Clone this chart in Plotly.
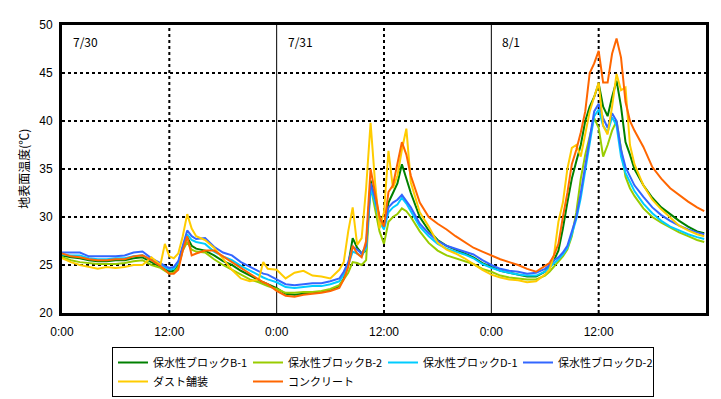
import plotly.graph_objects as go

hours = [0,1,2,3,4,5,6,7,8,9,10,11, 11.5,12,12.5,13,13.5,14,14.5,15, 16,17,18,19,20,21,22, 22.5,23,
         24,25,26,27,28,29,30,31, 31.5,32,32.5,33,33.5,34,34.5,35,35.5,36,36.5,37,37.5,38,38.5,39,
         40,41,42,43,44,45,46,47,48,49,50,51,52,53,54,
         54.5,55,55.5,56,56.5,57,57.5,58,58.5,59,59.5,60,60.5,61,61.5,62,62.5,63,63.5,64,
         65,66,67,68,69,70,71,71.8]

b1 = [26.0,25.8,25.7,25.5,25.4,25.4,25.5,25.5,25.7,25.8,25.3,24.8, 24.5,24.3,24.4,25.0,26.8,27.9,27.0,26.7, 26.5,26.0,25.4,25.0,24.4,23.9,23.4, 23.2,23.0,
      22.6,22.0,21.9,22.0,22.1,22.2,22.4,22.8, 23.6,25.0,27.8,26.8,26.2,26.5,33.8,32.0,30.0,29.0,31.5,32.5,33.5,35.5,34.0,32.5,
      30.0,28.6,27.6,27.0,26.6,26.2,25.8,25.2,24.8,24.4,24.2,24.0,23.8,23.8,24.3,
      24.9,25.5,26.5,28.8,31.5,34.0,35.8,37.5,40.0,41.5,42.5,43.9,41.5,40.5,42.5,44.2,41.5,37.8,36.5,35.0,
      33.3,32.0,31.0,30.3,29.6,29.0,28.5,28.3]

b2 = [25.8,25.5,25.3,25.2,25.1,25.1,25.1,25.2,25.4,25.5,25.0,24.7, 24.4,24.1,24.2,24.8,26.5,27.4,26.6,26.4, 26.3,25.6,25.0,24.5,24.0,23.5,23.2, 23.0,22.8,
      22.5,22.1,22.1,22.2,22.2,22.3,22.5,22.9, 23.5,24.2,25.3,25.2,25.0,25.5,33.2,31.0,28.5,27.2,29.5,30.0,30.3,30.9,30.6,30.0,
      28.5,27.3,26.5,26.0,25.7,25.4,25.1,24.6,24.3,23.9,23.7,23.6,23.5,23.5,23.9,
      24.3,24.8,25.3,25.9,26.6,28.0,30.5,34.0,36.5,38.5,40.3,39.3,36.3,37.5,39.0,40.0,37.0,34.2,33.0,32.2,
      30.9,30.0,29.4,28.9,28.4,28.0,27.6,27.4]

d1 = [26.1,26.0,26.0,25.7,25.6,25.6,25.7,25.7,25.9,26.0,25.5,25.0, 24.7,24.5,24.6,25.3,26.8,28.2,27.6,27.4, 27.2,26.4,25.9,25.5,24.9,24.4,23.9, 23.7,23.5,
      23.2,22.7,22.6,22.7,22.8,22.8,23.0,23.3, 24.0,25.0,26.4,26.2,25.9,26.8,33.0,31.5,29.5,28.7,30.5,31.0,31.3,32.0,31.4,30.6,
      29.0,28.0,27.2,26.7,26.4,26.1,25.7,25.1,24.7,24.4,24.2,24.0,23.9,23.9,24.3,
      24.7,25.2,25.6,26.1,26.8,28.2,29.8,32.0,35.0,38.0,40.5,41.2,39.5,38.8,40.4,39.5,36.3,34.6,33.6,32.7,
      31.4,30.4,29.6,29.0,28.6,28.2,27.9,27.7]

d2 = [26.3,26.3,26.3,25.9,25.9,25.9,25.9,26.0,26.3,26.4,25.7,25.2, 24.9,24.7,24.8,25.4,27.0,28.6,28.0,27.7, 27.8,26.9,26.3,26.0,25.3,24.8,24.3, 24.1,24.0,
      23.5,23.0,22.9,23.0,23.1,23.1,23.3,23.6, 24.3,25.3,26.9,26.6,26.2,27.0,33.5,32.0,29.8,29.0,31.0,31.5,31.8,32.3,31.7,31.0,
      29.3,28.3,27.5,27.0,26.7,26.4,26.1,25.5,25.0,24.6,24.4,24.3,24.1,24.2,24.6,
      25.0,25.5,25.8,26.3,27.0,28.5,30.0,32.5,35.5,38.5,41.0,41.8,40.3,39.3,40.8,40.0,37.0,35.2,34.2,33.3,
      32.1,31.0,30.2,29.6,29.1,28.7,28.4,28.2]

dust = [25.7,25.3,25.0,24.8,24.6,24.8,24.7,24.8,25.0,25.0,25.8,25.0, 27.2,25.9,25.7,26.2,28.0,30.3,28.8,28.0, 27.6,26.8,25.6,24.5,23.6,23.3,23.5, 25.3,24.6,
        24.5,23.6,24.2,24.4,23.9,23.8,23.6,24.5, 25.3,28.5,31.0,27.1,27.8,33.0,39.8,33.6,28.8,30.5,36.9,33.0,34.3,37.0,39.2,33.6,
        30.5,29.0,27.3,26.6,26.2,25.7,25.1,24.5,24.0,23.7,23.5,23.4,23.2,23.3,24.0,
        24.5,26.0,29.5,31.5,35.0,37.2,37.5,36.3,38.6,41.0,42.5,44.0,39.5,38.6,41.5,44.9,43.2,43.5,37.5,35.5,
        33.3,31.8,30.8,29.9,29.1,28.6,28.2,28.0]

concrete = [26.2,25.9,25.8,25.6,25.5,25.5,25.6,25.6,25.9,26.0,25.5,24.9, 24.5,24.1,24.1,24.5,26.5,28.0,26.0,26.2, 26.5,26.5,25.9,25.3,24.7,24.1,23.5, 23.2,23.0,
            22.3,21.8,21.7,21.9,22.0,22.1,22.3,22.6, 23.5,24.8,27.0,26.2,25.8,27.5,35.0,32.5,30.0,29.0,32.6,33.3,35.5,37.8,36.5,34.3,
            31.5,30.0,29.3,28.7,28.0,27.4,26.8,26.4,26.0,25.6,25.3,25.0,24.6,24.3,24.9,
            25.2,26.0,27.2,30.0,32.5,35.5,37.0,38.8,41.0,45.0,46.0,47.3,44.0,44.0,47.0,48.6,46.6,42.0,40.0,39.0,
            37.3,35.2,34.0,33.0,32.3,31.6,31.0,30.6]

series_names = ["保水性ブロックB-1", "保水性ブロックB-2", "保水性ブロックD-1",
                "保水性ブロックD-2", "ダスト舗装", "コンクリート"]
series_values = [b1, b2, d1, d2, dust, concrete]
series_colors = ["#008000", "#99CC00", "#00CCFF", "#3366FF", "#FFCC00", "#FF6600"]

x_tickvals = [0, 12, 24, 36, 48, 60]
x_ticktext = ["0:00", "12:00", "0:00", "12:00", "0:00", "12:00"]
y_tickvals = [20, 25, 30, 35, 40, 45, 50]
day_starts = [0, 24, 48]
day_labels = ["7/30", "7/31", "8/1"]
x_range = [0, 72]
y_range = [20, 50]
y_title = "地表面温度(℃)"

# the page body has an 8px default margin; size the figure so it fits the window
OFF = 8
W, H = 721 - OFF, 399 - OFF

fig = go.Figure()
for name, vals, col in zip(series_names, series_values, series_colors):
    fig.add_trace(go.Scatter(x=hours, y=vals, mode="lines", name=name,
                             line=dict(color=col, width=2)))

shapes = []
for yv in y_tickvals[1:-1]:
    shapes.append(dict(type="line", xref="x", yref="y", x0=x_range[0], x1=x_range[1],
                       y0=yv, y1=yv, layer="below",
                       line=dict(color="black", width=2, dash="3px,3px")))
for xv in x_tickvals[1:]:
    if xv in day_starts:
        shapes.append(dict(type="line", xref="x", yref="y", x0=xv, x1=xv,
                           y0=y_range[0], y1=y_range[1], layer="below",
                           line=dict(color="black", width=1)))
    else:
        shapes.append(dict(type="line", xref="x", yref="y", x0=xv, x1=xv,
                           y0=y_range[0], y1=y_range[1], layer="below",
                           line=dict(color="black", width=2, dash="3px,3px")))

annotations = []
for d, lab in zip(day_starts, day_labels):
    annotations.append(dict(x=d + 1.0, y=y_range[1] - 0.6, xref="x", yref="y",
                            text=lab, showarrow=False, xanchor="left", yanchor="top",
                            font=dict(size=12, color="black")))
annotations.append(dict(x=-0.061, y=0.5, xref="paper", yref="paper", text=y_title,
                        textangle=-90, showarrow=False, xanchor="center", yanchor="middle",
                        font=dict(size=12, color="black")))

fig.update_layout(
    width=W, height=H,
    margin=dict(l=62 - OFF, r=15, t=25 - OFF, b=86),
    paper_bgcolor="white", plot_bgcolor="white",
    font=dict(family="Noto Sans CJK JP, Liberation Sans, sans-serif", size=12, color="black"),
    shapes=shapes, annotations=annotations,
    showlegend=True,
    legend=dict(orientation="h", xref="container", yref="container",
                x=(383 - OFF) / W, xanchor="center", y=1 - (347 - OFF) / H, yanchor="top",
                bordercolor="black", borderwidth=1, bgcolor="white",
                entrywidth=90, entrywidthmode="pixels", itemwidth=30,
                tracegroupgap=0, font=dict(size=11)),
    xaxis=dict(range=x_range, tickvals=x_tickvals, ticktext=x_ticktext,
               showgrid=False, zeroline=False, showline=True, linecolor="black",
               linewidth=3, mirror=True, ticks="", ticklabelstandoff=6, automargin=False,
               tickfont=dict(family="Liberation Sans, sans-serif", size=12)),
    yaxis=dict(range=y_range, tickvals=y_tickvals, showgrid=False, zeroline=False,
               showline=True, linecolor="black", linewidth=3, mirror=True, ticks="",
               automargin=False, ticklabelstandoff=4,
               tickfont=dict(family="Liberation Sans, sans-serif", size=12)),
)

fig.write_html("out.html")
